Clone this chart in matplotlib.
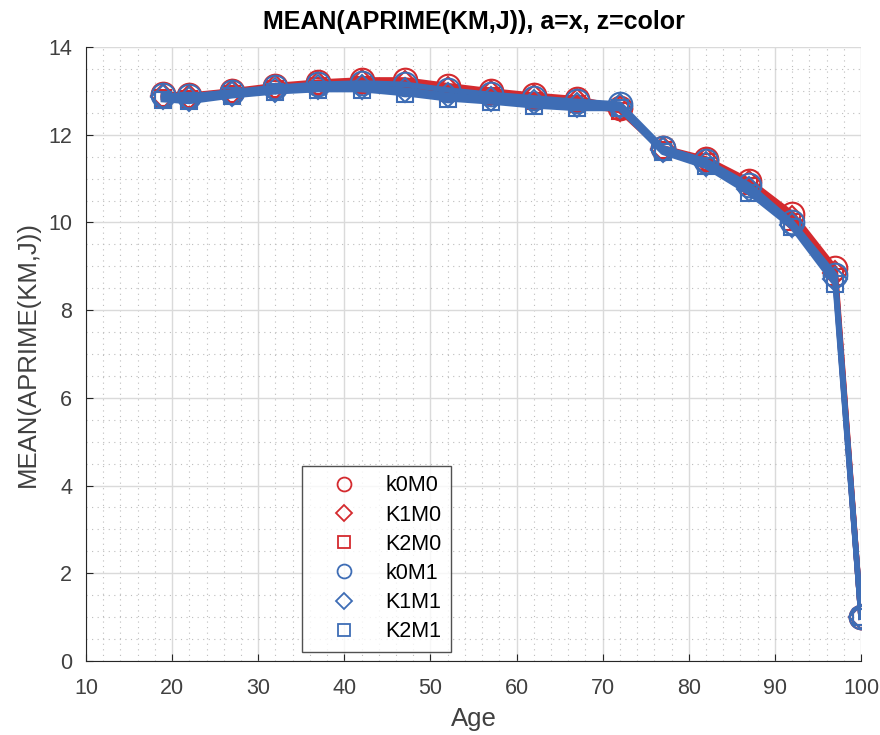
import numpy as np
import matplotlib.pyplot as plt
from matplotlib.lines import Line2D
from matplotlib.ticker import MultipleLocator

plt.rcParams["font.family"] = ["Liberation Sans", "DejaVu Sans"]

# age grid and mean a' per group
age = [19, 22, 27, 32, 37, 42, 47, 52, 57, 62, 67, 72, 77, 82, 87, 92, 97, 100]

k0M0 = [12.92, 12.90, 13.00, 13.12, 13.20, 13.25, 13.25, 13.12, 13.00, 12.90, 12.82, 12.62, 11.70, 11.45, 10.95, 10.20, 8.95, 1.0]
K1M0 = [12.88, 12.86, 12.97, 13.08, 13.16, 13.20, 13.18, 13.05, 12.95, 12.85, 12.76, 12.58, 11.68, 11.42, 10.90, 10.10, 8.85, 1.0]
K2M0 = [12.84, 12.82, 12.93, 13.04, 13.12, 13.14, 13.08, 12.96, 12.88, 12.78, 12.70, 12.55, 11.65, 11.38, 10.82, 10.02, 8.75, 1.0]
k0M1 = [12.90, 12.88, 12.98, 13.08, 13.15, 13.18, 13.15, 13.02, 12.92, 12.84, 12.76, 12.70, 11.70, 11.40, 10.85, 10.00, 8.80, 1.0]
K1M1 = [12.85, 12.82, 12.94, 13.03, 13.09, 13.10, 13.02, 12.90, 12.82, 12.74, 12.68, 12.65, 11.65, 11.34, 10.76, 9.95, 8.70, 1.0]
K2M1 = [12.80, 12.76, 12.89, 12.98, 13.03, 13.03, 12.94, 12.82, 12.75, 12.66, 12.60, 12.60, 11.60, 11.28, 10.68, 9.90, 8.60, 1.0]

labels = ["k0M0", "K1M0", "K2M0", "k0M1", "K1M1", "K2M1"]
series = [k0M0, K1M0, K2M0, k0M1, K1M1, K2M1]

red = "#D42A2E"
blue = "#3E6DB5"
colors = [red, red, red, blue, blue, blue]
markers = ["o", "D", "s", "o", "D", "s"]
sizes = [17, 12, 11, 17, 12, 11]

fig = plt.figure(figsize=(8.8, 7.35), dpi=100)
ax = fig.add_axes([0.0977, 0.1007, 0.8807, 0.8353])

for y, c, m, s in zip(series, colors, markers, sizes):
    ax.plot(age, y, color=c, linewidth=4, marker=m, markersize=s,
            markerfacecolor="none", markeredgecolor=c, markeredgewidth=1.5)

ax.set_xlim(10, 100)
ax.set_ylim(0, 14)
ax.xaxis.set_major_locator(MultipleLocator(10))
ax.yaxis.set_major_locator(MultipleLocator(2))
ax.xaxis.set_minor_locator(MultipleLocator(2))
ax.yaxis.set_minor_locator(MultipleLocator(0.5))
ax.grid(which="major", color="#DADADA", linewidth=1.0)
ax.grid(which="minor", color="#BDBDBD", linestyle=(0, (1, 4)), linewidth=0.8)
ax.set_axisbelow(True)

for side in ["top", "right"]:
    ax.spines[side].set_visible(False)
for side in ["left", "bottom"]:
    ax.spines[side].set_color("#262626")
ax.tick_params(which="major", direction="in", length=5, labelsize=15.5,
               colors="#262626", labelcolor="#404040", pad=10)
ax.tick_params(axis="x", which="major", pad=12)
ax.tick_params(which="minor", length=0)

ax.set_xlabel("Age", fontsize=18.5, color="#404040", labelpad=6)
ax.set_ylabel("MEAN(APRIME(KM,J))", fontsize=18.5, color="#404040", labelpad=6)
ax.set_title("MEAN(APRIME(KM,J)), a=x, z=color", fontsize=18, fontweight="bold", pad=13)

# marker-only legend entries
handles = [Line2D([], [], linestyle="none", marker=m, color=c,
                  markersize=10 if m == "o" else 8,
                  markerfacecolor="none", markeredgewidth=1.3)
           for c, m in zip(colors, markers)]
leg = ax.legend(handles, labels, loc="lower left", bbox_to_anchor=(0.279, 0.0147),
                fontsize=15.5, frameon=True, fancybox=False, edgecolor="#262626",
                labelspacing=0.38, handletextpad=0.4, borderpad=0.45, handlelength=3.0,
                borderaxespad=0)
leg.get_frame().set_linewidth(1.0)

fig.savefig("out.png", dpi=100)
